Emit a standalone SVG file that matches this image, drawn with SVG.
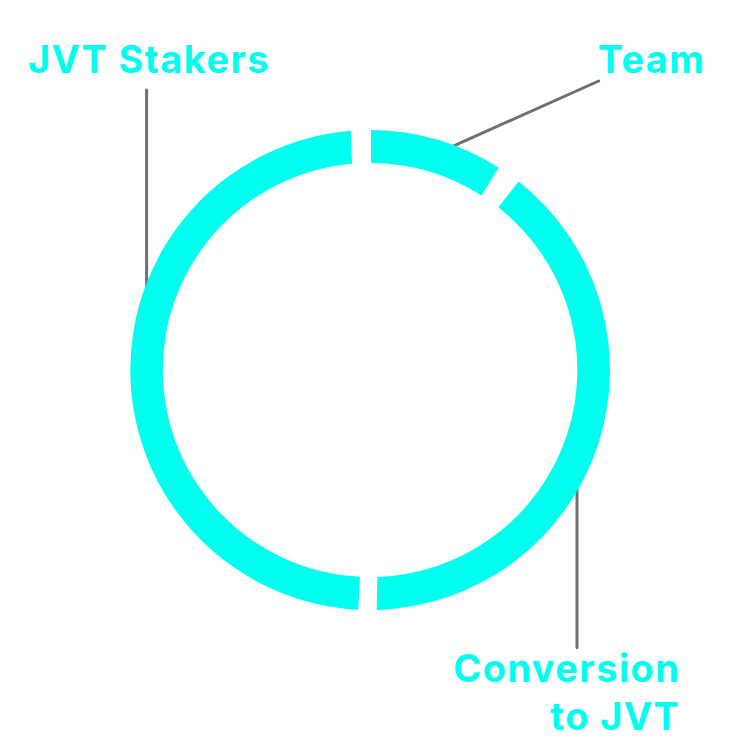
<svg xmlns="http://www.w3.org/2000/svg" width="741" height="741" viewBox="0 0 741 741">
<style>
.seg{fill:#00FFEE;}
.lead{stroke:#707070;stroke-width:3;fill:none;stroke-linecap:round;}
.lbl{font-family:Inter,"Liberation Sans",sans-serif;font-weight:700;font-size:38px;letter-spacing:1.4px;fill:#00FFEE;}
</style>
<rect width="741" height="741" fill="#FFFFFF"/>
<g id="connectors">
<line class="lead" x1="146.6" y1="90" x2="146.6" y2="373"/>
<line class="lead" x1="432.5" y1="155.4" x2="598.7" y2="81"/>
<line class="lead" x1="577" y1="454" x2="577" y2="647.5"/>
</g>
<g id="node-stakers">
<path class="seg" d="M358.3 609.7 A240 240 0 0 1 350.7 130.8 L352 163.8 A207 207 0 0 0 360 576.8 Z"/>
<text class="lbl" x="28" y="72.5">JVT Stakers</text>
</g>
<g id="node-team">
<path class="seg" d="M371 130 A240 240 0 0 1 498.7 167.7 L481.4 195.5 A207 207 0 0 0 371 163 Z"/>
<text class="lbl" x="705.4" y="72.5" text-anchor="end">Team</text>
</g>
<g id="node-conversion">
<path class="seg" d="M518.5 181.5 A240 240 0 0 1 376.7 609.9 L377.3 576.9 A207 207 0 0 0 498.3 207.3 Z"/>
<text class="lbl" x="680.4" y="682" text-anchor="end">Conversion</text>
<text class="lbl" x="680.4" y="730" text-anchor="end">to JVT</text>
</g>
</svg>
